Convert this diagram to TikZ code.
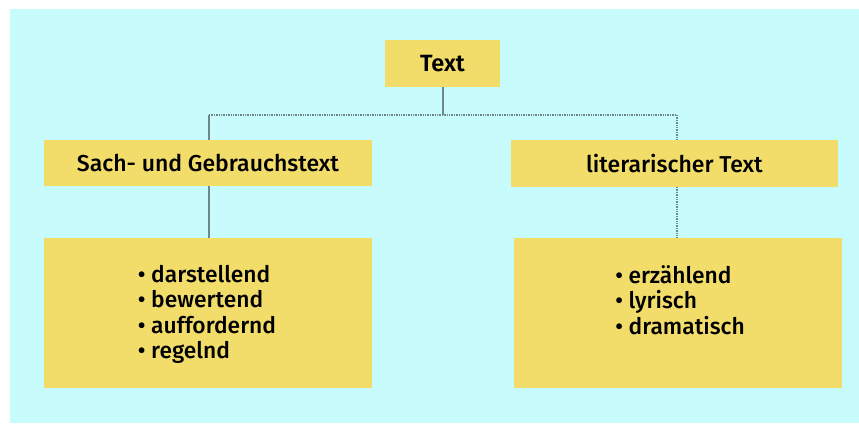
\documentclass[tikz,border=0pt]{standalone}
\usepackage{fontspec}
\setmainfont{Fira Sans}[UprightFont=* Medium, BoldFont=* SemiBold]
\definecolor{sky}{HTML}{C8FCFC}
\definecolor{boxfill}{HTML}{F2DC6A}
\definecolor{wire}{HTML}{6E8888}
\begin{document}
\begin{tikzpicture}[x=1pt,y=-1pt,
  box/.style={fill=boxfill, draw=none, inner sep=0pt, outer sep=0pt},
  label/.style={font=\fontsize{23}{26}\selectfont},
  listtext/.style={font=\fontsize{22.8}{25.5}\selectfont, align=left, anchor=north, inner sep=0pt},
  wireline/.style={draw=wire, line width=1.4pt},
  wiredot/.style={draw=wire, line width=1.4pt, densely dotted}]
  % page and tinted backdrop
  \fill[white] (0,0) rectangle (859,423);
  \fill[sky] (10,9) rectangle (859,423);
  \useasboundingbox (0,0) rectangle (859,423);

  % boxes
  \node[box, minimum width=115pt, minimum height=47pt] (text) at (442.5,63.5) {};
  \node[box, minimum width=328pt, minimum height=46pt] (sach) at (208,163) {};
  \node[box, minimum width=327pt, minimum height=47pt] (lit) at (674.5,163.5) {};
  \node[box, minimum width=328pt, minimum height=150pt] (slist) at (208,313) {};
  \node[box, minimum width=328pt, minimum height=150pt] (llist) at (678,313) {};

  % labels
  \node[font=\fontsize{23.5}{26}\bfseries\selectfont] (textlab) at (text) {Text};
  \node[label] (sachlab) at (sach) {Sach- und Gebrauchstext};
  \node[label] (litlab) at (lit) {literarischer Text};
  \node[listtext] (slisttext) at ([xshift=-1pt,yshift=-27pt]slist.north) {%
    \textbullet\ darstellend\\ \textbullet\ bewertend\\ \textbullet\ auffordernd\\ \textbullet\ regelnd};
  \node[listtext] (llisttext) at ([xshift=2pt,yshift=-27pt]llist.north) {%
    \textbullet\ erzählend\\ \textbullet\ lyrisch\\ \textbullet\ dramatisch};

  % connectors
  \coordinate (hub) at (443,115);
  \coordinate (lefthub) at (209,115);
  \coordinate (righthub) at (677,115);
  \draw[wireline] (text.south -| hub) -- (hub);
  \draw[wiredot] (lefthub) -- (righthub);
  \draw[wireline] (lefthub) -- (lefthub |- sach.north);
  \draw[wiredot] (righthub) -- (righthub |- lit.north);
  \draw[wireline] (lefthub |- sach.south) -- (lefthub |- slist.north);
  \draw[wiredot] (righthub |- lit.south) -- (righthub |- llist.north);
\end{tikzpicture}
\end{document}
